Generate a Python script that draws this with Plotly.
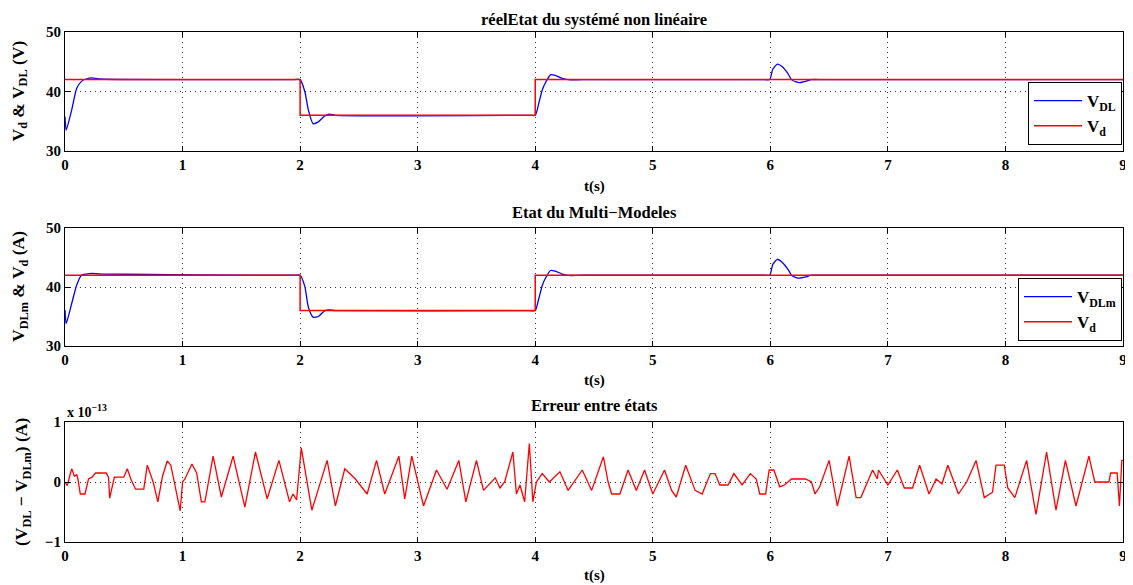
import plotly.graph_objects as go

# ---- data ----
t_vdl = [0, 0.01, 0.057, 0.099, 0.14, 0.18, 0.23, 0.3, 1.95, 2.0, 2.04, 2.07, 2.11, 2.155, 2.21, 2.25, 2.3, 3.95,
         4.0, 4.03, 4.06, 4.09, 4.13, 4.17, 4.23, 4.3, 4.4, 5.95, 5.995, 6.02, 6.06, 6.1, 6.15, 6.18, 6.22, 6.25,
         6.3, 6.35, 6.45, 9.0]
v_dl = [35.8, 33.5, 36.9, 40.5, 41.7, 42.1, 42.3, 42.1, 42.0, 42.0, 40.0, 36.9, 34.6, 34.9, 35.9, 36.2, 36.0, 36.0,
        36.0, 38.0, 40.25, 41.6, 42.8, 42.7, 42.2, 41.95, 42.0, 42.0, 42.0, 43.7, 44.6, 44.2, 43.0, 42.0, 41.6, 41.5,
        41.7, 42.0, 42.0, 42.0]
v_dlm = [36.1, 33.8, 37.2, 40.3, 42.0, 42.2, 42.3, 42.2, 42.0, 42.0, 40.1, 36.6, 34.9, 35.0, 36.0, 36.1, 36.0, 36.0,
         36.0, 38.0, 40.25, 41.6, 42.8, 42.7, 42.2, 41.95, 42.0, 42.0, 42.0, 43.8, 44.7, 44.2, 43.0, 42.0, 41.6, 41.5,
         41.7, 42.0, 42.0, 42.0]
t_vd = [0, 2, 2, 4, 4, 9]
v_d = [42, 42, 36, 36, 42, 42]

err_t = [0, 0.02, 0.04, 0.057, 0.08, 0.1, 0.11, 0.13, 0.17, 0.2, 0.23, 0.26, 0.35, 0.37, 0.38, 0.4, 0.42, 0.5,
         0.53, 0.56, 0.58, 0.6, 0.67, 0.7, 0.75, 0.79, 0.83, 0.87, 0.9, 0.93, 0.98, 1.0, 1.02, 1.08, 1.12, 1.16,
         1.19, 1.26, 1.33, 1.43, 1.53, 1.62, 1.72, 1.82, 1.91, 1.94, 1.97, 2.01, 2.10, 2.23, 2.30, 2.38, 2.47,
         2.57, 2.65, 2.72, 2.84, 2.89, 2.95, 3.05, 3.16, 3.25, 3.35, 3.41, 3.50, 3.56, 3.66, 3.70, 3.74, 3.81,
         3.84, 3.87, 3.91, 3.95, 3.98, 4.01, 4.06, 4.12, 4.21, 4.28, 4.40, 4.48, 4.58, 4.62, 4.65, 4.72, 4.79,
         4.86, 4.93, 5.0, 5.10, 5.16, 5.20, 5.28, 5.36, 5.42, 5.49, 5.53, 5.57, 5.64, 5.69, 5.76, 5.83, 5.88,
         5.91, 5.96, 5.99, 6.03, 6.08, 6.12, 6.18, 6.30, 6.35, 6.38, 6.42, 6.5, 6.57, 6.67, 6.73, 6.77, 6.87,
         6.91, 6.92, 7.0, 7.08, 7.14, 7.21, 7.27, 7.35, 7.41, 7.46, 7.51, 7.6, 7.67, 7.75, 7.82, 7.89, 7.92,
         7.99, 8.02, 8.08, 8.18, 8.26, 8.35, 8.43, 8.51, 8.60, 8.71, 8.76, 8.88, 8.895, 8.95, 8.97, 8.99, 9.0]
err_v = [0, -0.06, 0.1, 0.22, 0.1, 0.12, 0.05, -0.2, -0.2, 0.05, 0.08, 0.15, 0.15, 0.08, -0.27, -0.1, 0.08, 0.08,
         0.22, 0.05, -0.05, -0.12, -0.12, 0.28, 0.0, -0.33, 0.1, 0.35, 0.28, 0.0, -0.48, 0.0, 0.05, 0.3, 0.15, -0.33,
         -0.33, 0.43, -0.25, 0.43, -0.42, 0.5, -0.28, 0.36, -0.33, -0.2, -0.3, 0.57, -0.47, 0.36, -0.4, 0.22, 0.05,
         -0.2, 0.36, -0.2, 0.43, -0.28, 0.43, -0.4, 0.2, -0.12, 0.36, -0.33, 0.36, -0.14, 0.07, -0.1, 0.0, 0.5,
         -0.2, -0.05, -0.33, 0.64, -0.33, 0.0, 0.14, 0.0, 0.17, -0.14, 0.2, -0.14, 0.42, 0.0, -0.2, -0.2, 0.2,
         -0.14, 0.2, -0.2, 0.2, -0.14, -0.25, 0.28, -0.14, -0.2, 0.14, 0.14, -0.05, -0.05, 0.14, -0.05, 0.14, 0.05,
         -0.2, -0.2, 0.2, 0.2, -0.08, -0.05, 0.05, 0.05, 0.0, -0.2, -0.08, 0.36, -0.4, 0.43, -0.26, -0.26, 0.2,
         0.05, 0.2, -0.05, 0.2, -0.1, -0.1, 0.28, -0.2, 0.05, -0.03, 0.28, -0.2, 0.0, 0.36, -0.26, -0.17, 0.28,
         0.28, -0.1, -0.26, 0.36, -0.54, 0.5, -0.47, 0.36, -0.4, 0.43, 0.0, 0.0, 0.15, 0.15, -0.4, 0.36, 0.36]

x_ticks = [0, 1, 2, 3, 4, 5, 6, 7, 8, 9]
y_ticks_v = [30, 40, 50]
y_ticks_e = [-1, 0, 1]

titles = ["réelEtat du systémé non linéaire", "Etat du Multi−Modeles", "Erreur entre états"]
ylabels = ["V<sub>d</sub> & V<sub>DL</sub> (V)", "V<sub>DLm</sub> & V<sub>d</sub> (A)",
           "(V<sub>DL</sub> − V<sub>DLm</sub>) (A)"]

# ---- layout geometry (pixel positions of the reference; the page body adds an 8px offset) ----
OFF = 8
W, H = 1133 - OFF, 585 - OFF
ML, MR, MT, MB = 65 - OFF, W - (1123 - OFF), 32 - OFF, H - (542 - OFF)
PW, PH = W - ML - MR, H - MT - MB

def fy(p):  # reference pixel y -> fraction of plot area
    return 1 - (p - OFF - MT) / PH

def fx(p):  # reference pixel x -> fraction of plot area
    return (p - OFF - ML) / PW

doms = [(fy(151), fy(32)), (fy(346), fy(228)), (fy(542), fy(422))]

FONT = "Liberation Serif, Times New Roman, serif"
BLUE = "#0000FF"
RED = "#FF0000"

fig = go.Figure()

fig.add_trace(go.Scatter(x=t_vdl, y=v_dl, mode="lines", line=dict(color=BLUE, width=1.3, shape="spline", smoothing=0.6),
                         name="V<sub>DL</sub>", xaxis="x", yaxis="y", legend="legend"))
fig.add_trace(go.Scatter(x=t_vd, y=v_d, mode="lines", line=dict(color=RED, width=1.5),
                         name="V<sub>d</sub>", xaxis="x", yaxis="y", legend="legend"))
fig.add_trace(go.Scatter(x=t_vdl, y=v_dlm, mode="lines", line=dict(color=BLUE, width=1.3, shape="spline", smoothing=0.6),
                         name="V<sub>DLm</sub>", xaxis="x2", yaxis="y2", legend="legend2"))
fig.add_trace(go.Scatter(x=t_vd, y=v_d, mode="lines", line=dict(color=RED, width=1.5),
                         name="V<sub>d</sub>", xaxis="x2", yaxis="y2", legend="legend2"))
fig.add_trace(go.Scatter(x=err_t, y=err_v, mode="lines", line=dict(color=RED, width=1.3),
                         showlegend=False, xaxis="x3", yaxis="y3"))

axcommon = dict(showline=True, linecolor="black", linewidth=1.2, mirror="ticks", ticks="inside", ticklen=5,
                tickcolor="black", showgrid=True, gridcolor="#333", griddash="1px,4px", gridwidth=1, zeroline=False,
                automargin=False, tickfont=dict(family=FONT, size=15, color="black", weight="bold"))

layout = dict(width=W, height=H, autosize=False, margin=dict(l=ML, r=MR, t=MT, b=MB, pad=0),
              plot_bgcolor="white", paper_bgcolor="white",
              font=dict(family=FONT, color="black", weight="bold"))
for i, (d, yt, rng) in enumerate(zip(doms, [y_ticks_v, y_ticks_v, y_ticks_e], [[30, 50], [30, 50], [-1, 1]])):
    s = "" if i == 0 else str(i + 1)
    layout["xaxis" + s] = dict(domain=[0, 1], range=[0, 9], tickvals=x_ticks, anchor="y" + s, **axcommon)
    layout["yaxis" + s] = dict(domain=list(d), range=rng, tickvals=yt, anchor="x" + s, **axcommon)

legcommon = dict(bordercolor="black", borderwidth=1, bgcolor="white", xanchor="right", yanchor="top",
                 xref="paper", yref="paper", itemwidth=48,
                 font=dict(family=FONT, size=17, color="black", weight="bold"), tracegroupgap=0)
layout["legend"] = dict(x=fx(1122), y=fy(82), **legcommon)
layout["legend2"] = dict(x=fx(1122), y=fy(278), **legcommon)
fig.update_layout(**layout)

anns = []
# top title anchored at the very top of the figure so it is never clipped
anns.append(dict(text=titles[0], x=0.5, y=1, yref="paper", xref="paper", showarrow=False, yshift=MT,
                 font=dict(family=FONT, size=16.5, weight="bold"), xanchor="center", yanchor="top"))
for ty, tx in zip([212, 405], titles[1:]):
    anns.append(dict(text=tx, x=0.5, y=fy(ty), xref="paper", yref="paper", showarrow=False,
                     font=dict(family=FONT, size=16.5, weight="bold"), xanchor="center", yanchor="middle"))
for ty in [186, 380, 575]:
    anns.append(dict(text="t(s)", x=0.5, y=fy(ty), xref="paper", yref="paper", showarrow=False,
                     font=dict(family=FONT, size=15, weight="bold"), xanchor="center", yanchor="middle"))
for (d, lab, lx) in zip(doms, ylabels, [19, 19, 22]):
    anns.append(dict(text=lab, x=fx(lx), y=(d[0] + d[1]) / 2, xref="paper", yref="paper", showarrow=False,
                     textangle=-90, font=dict(family=FONT, size=17.5, weight="bold"), xanchor="center",
                     yanchor="middle"))
anns.append(dict(text="x 10<sup>−13</sup>", x=0, y=fy(411), xref="paper", yref="paper", showarrow=False,
                 font=dict(family=FONT, size=14, weight="bold"), xanchor="left", yanchor="middle"))
fig.update_layout(annotations=anns)

fig.write_html("out.html")
